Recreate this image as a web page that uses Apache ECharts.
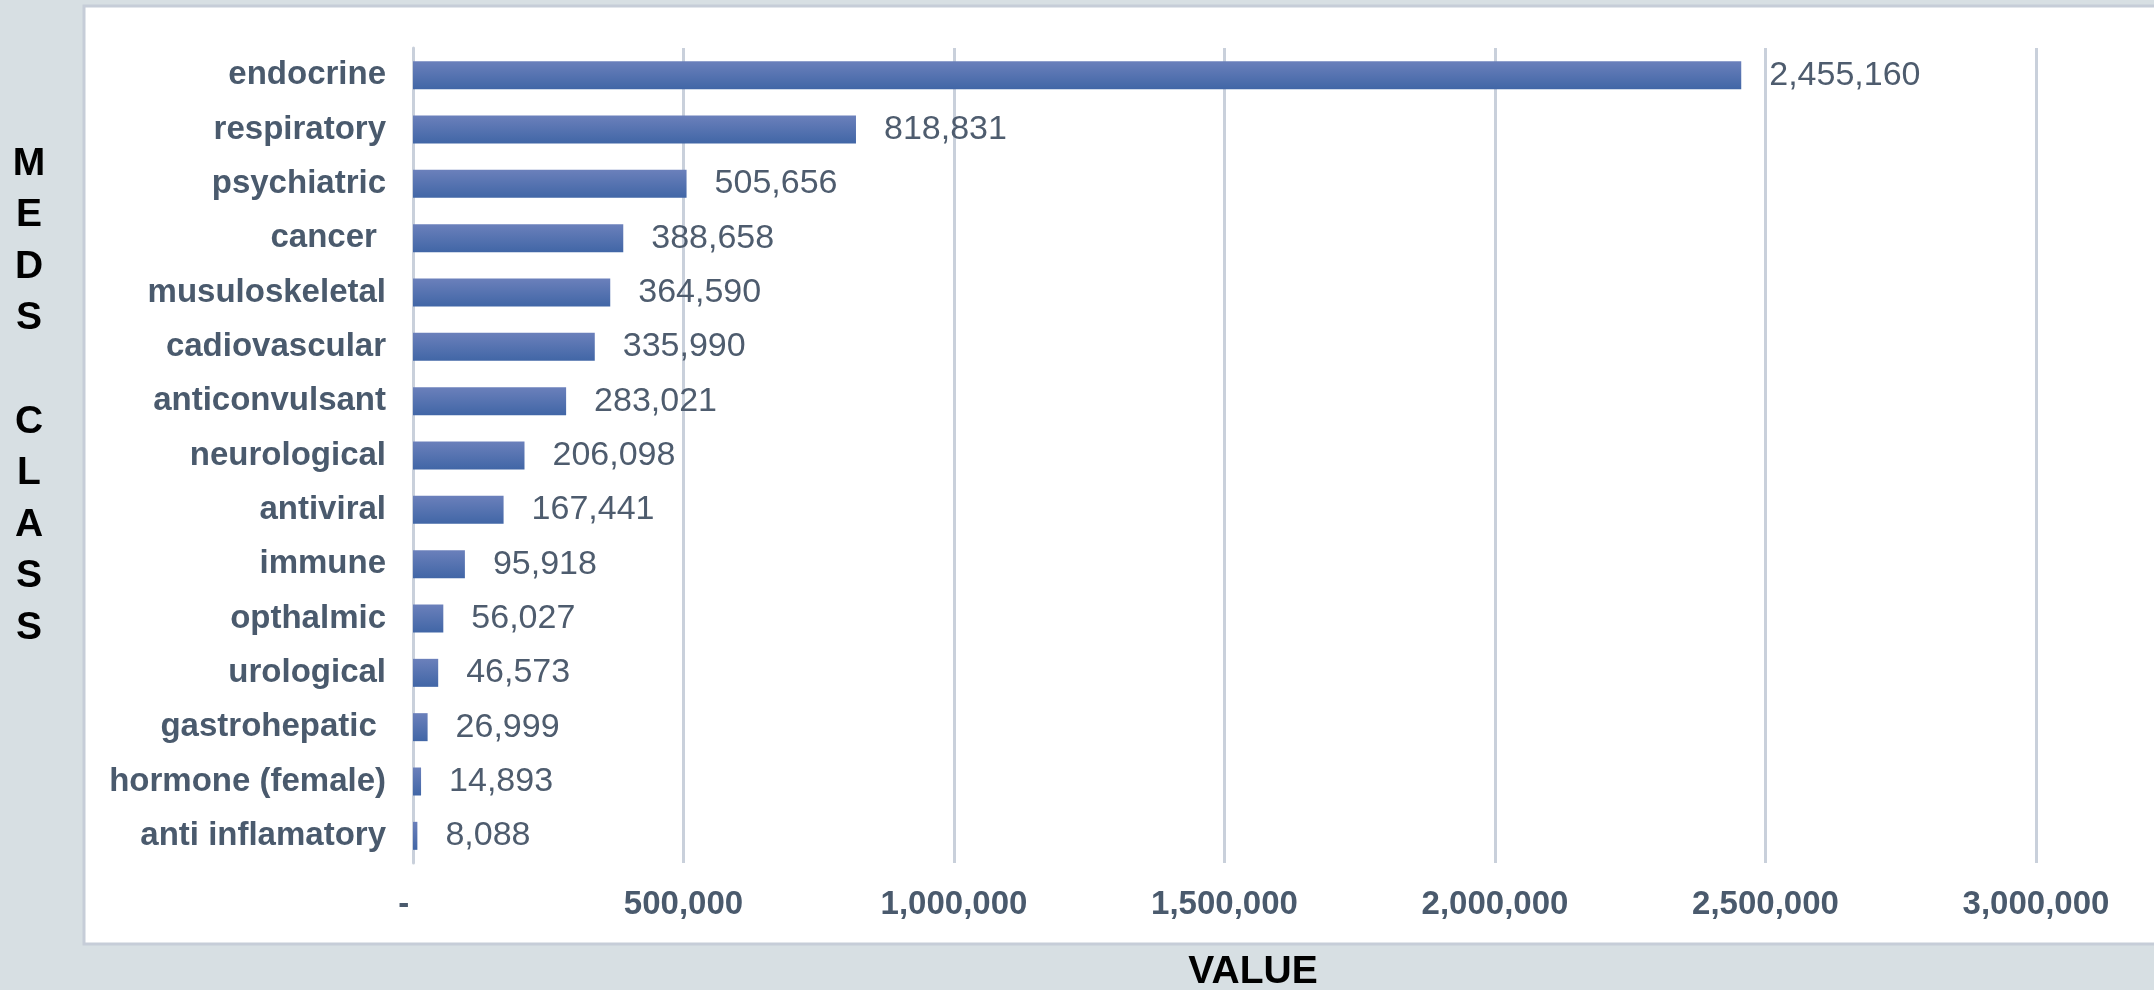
<!DOCTYPE html>
<html>
<head>
<meta charset="utf-8">
<script src="https://cdn.jsdelivr.net/npm/echarts@6/dist/echarts.min.js"></script>
<style>
html,body{margin:0;padding:0;background:#d7dfe3;}
#chart{width:2154px;height:990px;}
</style>
</head>
<body>
<div id="chart"></div>
<script>
const categories = ['endocrine','respiratory','psychiatric','cancer ','musuloskeletal','cadiovascular','anticonvulsant','neurological','antiviral','immune','opthalmic','urological','gastrohepatic ','hormone (female)','anti inflamatory'];
const values = [2455160,818831,505656,388658,364590,335990,283021,206098,167441,95918,56027,46573,26999,14893,8088];
const xTicks = [0,500000,1000000,1500000,2000000,2500000,3000000];
const xTitle = 'VALUE';
const yTitle = 'MEDS CLASS';

const FONT = '"Liberation Sans", Arial, sans-serif';
const chart = echarts.init(document.getElementById('chart'));
const fmt = v => v.toLocaleString('en-US');

chart.setOption({
  backgroundColor: '#d7dfe3',
  animation: false,
  graphic: [
    { type: 'rect', z: -10, shape: { x: 84, y: 6, width: 2100, height: 938 },
      style: { fill: '#ffffff', stroke: '#c6cdd8', lineWidth: 3 } },
    { type: 'text', x: 1253, y: 972, z: 10,
      style: { text: xTitle, font: 'bold 39px ' + FONT, fill: '#000000', align: 'center', verticalAlign: 'middle' } },
    { type: 'text', x: 29, y: 138, z: 10,
      style: { text: yTitle.split('').join('\n'), font: 'bold 39px ' + FONT, fill: '#000000', align: 'center', verticalAlign: 'top', lineHeight: 51.6 } }
  ],
  grid: { left: 413, right: 118, top: 48, bottom: 127, containLabel: false },
  xAxis: {
    type: 'value', min: xTicks[0], max: xTicks[xTicks.length - 1], interval: 500000,
    axisLine: { show: false }, axisTick: { show: false },
    splitLine: { show: true, lineStyle: { color: '#c9d0db', width: 3 } },
    axisLabel: { margin: 25, color: '#4a5a6d', fontFamily: FONT, fontSize: 33, fontWeight: 'bold',
      formatter: v => v === 0 ? '-  ' : fmt(v) }
  },
  yAxis: {
    type: 'category', data: categories, inverse: true,
    axisLine: { show: true, lineStyle: { color: '#c9d0db', width: 3 } },
    axisTick: { show: false },
    axisLabel: { margin: 27, color: '#4a5a6d', fontFamily: FONT, fontSize: 33, fontWeight: 'bold' }
  },
  series: [{
    type: 'bar', data: values, barWidth: 28,
    itemStyle: { color: new echarts.graphic.LinearGradient(0, 0, 0, 1, [
      { offset: 0, color: '#6b80bb' }, { offset: 1, color: '#4166a6' }]) },
    label: { show: true, position: 'right', distance: 28, color: '#4e5c6e', fontFamily: FONT, fontSize: 34,
      formatter: p => fmt(p.value) }
  }]
});
</script>
</body>
</html>
